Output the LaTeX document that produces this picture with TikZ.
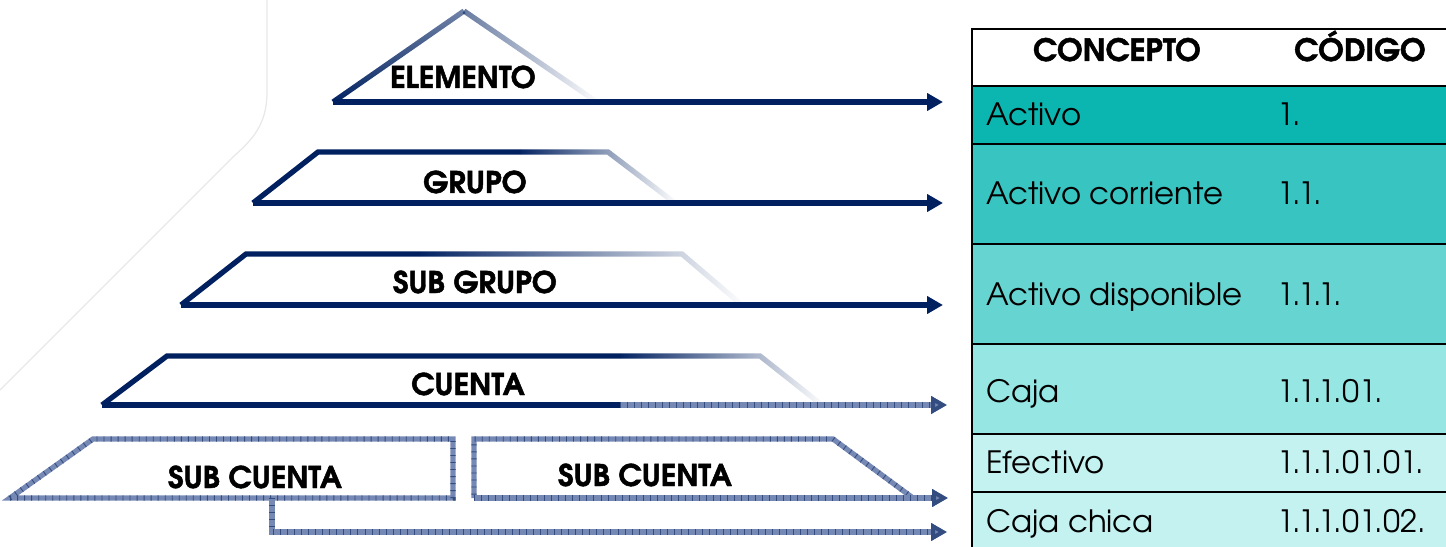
\documentclass[tikz,border=0pt]{standalone}
\usepackage{fontspec}
\setmainfont{texgyreadventor}[Extension=.otf, UprightFont=*-regular, BoldFont=*-bold, BoldFeatures={FakeBold=1.6}]
\usetikzlibrary{arrows.meta,fadings}
\definecolor{navy}{RGB}{0,32,96}
\definecolor{hatch}{RGB}{118,136,180}
\definecolor{rowA}{RGB}{12,182,176}
\definecolor{rowB}{RGB}{56,196,192}
\definecolor{rowC}{RGB}{102,212,208}
\definecolor{rowD}{RGB}{150,230,228}
\definecolor{rowE}{RGB}{196,242,241}
\tikzfading[name=faderight, left color=transparent!0, right color=transparent!100]
\tikzfading[name=fadequick, left color=transparent!0, middle color=transparent!92, right color=transparent!100]
\tikzfading[name=fadeapex, left color=transparent!40, right color=transparent!100]
\tikzfading[name=fadeup, bottom color=transparent!0, top color=transparent!45]

\begin{document}
\begin{tikzpicture}[x=0.02cm, y=-0.02cm,
  edge/.style={draw=navy, line width=3pt},
  weave/.style={draw=hatch, line width=3pt,
    postaction={draw=navy!80, line width=3pt, dash pattern=on 0.5pt off 3.5pt}},
  tip/.style={-{Triangle[length=0.32cm, width=0.34cm]}},
  wtip/.style={-{Triangle[length=0.32cm, width=0.34cm, fill=hatch]}},
  lbl/.style={font=\fontsize{17}{19}\selectfont\bfseries, inner sep=0pt, anchor=base},
  cell/.style={font=\fontsize{17.5}{20}\selectfont, inner sep=0pt, anchor=base west}]

\useasboundingbox (0,0) rectangle (1446,547);

% faint slide decoration
\draw[black!9, line width=0.7pt] (267,0) -- (267,92) .. controls (267,125) and (252,140) .. (233,157) -- (0,390);

% ---- levels ----
\coordinate (e1) at (333,102);
\coordinate (e2) at (464,11);
\coordinate (e3) at (597,102);
\coordinate (g1) at (253,203);
\coordinate (g2) at (318,152);
\coordinate (g3) at (608,152);
\coordinate (g4) at (675,203);
\coordinate (s1) at (181,305);
\coordinate (s2) at (246,254);
\coordinate (s3) at (682,254);
\coordinate (s4) at (742,305);
\coordinate (c1) at (102,405);
\coordinate (c2) at (167,356);
\coordinate (c3) at (760,356);
\coordinate (c4) at (822,405);
\coordinate (c5) at (620,405);

% arrow ends
\coordinate (t1) at (943,102);
\coordinate (t2) at (943,203);
\coordinate (t3) at (943,305);
\coordinate (t4) at (947,405);
\coordinate (t5) at (948,498);
\coordinate (t6) at (947,532);

% elemento
\path[draw=navy, line width=3pt, path fading=fadeup] (e1) -- (e2);
\path[draw=navy, line width=3pt, path fading=fadeapex] (e2) -- (e3);
\draw[edge, tip] (e1) -- (t1);
\node[lbl] (elemento) at (463,88) {ELEMENTO};

% grupo
\draw[edge] (g1) -- (g2) -- (520,152);
\path[draw=navy, line width=3pt, path fading=faderight] (520,152) -- (g3) -- (g4);
\draw[edge, tip] (g1) -- (t2);
\node[lbl] (grupo) at (475,193) {GRUPO};

% sub grupo
\draw[edge] (s1) -- (s2) -- (420,254);
\path[draw=navy, line width=3pt, path fading=faderight] (420,254) -- (s3) -- (s4);
\draw[edge, tip] (s1) -- (t3);
\node[lbl] (subgrupo) at (475,293) {SUB GRUPO};

% cuenta
\draw[edge] (c1) -- (c2) -- (620,356);
\path[draw=navy, line width=3pt, path fading=fadequick] (620,356) -- (c3) -- (c4);
\draw[edge] (c1) -- (c5);
\draw[weave, wtip] (c5) -- (t4);
\node[lbl] (cuenta) at (468,395) {CUENTA};

% sub cuentas
\coordinate (l1) at (10,498);
\coordinate (l2) at (93,439);
\coordinate (l3) at (453,439);
\coordinate (l4) at (453,498);
\coordinate (l5) at (272,498);
\coordinate (l6) at (272,532);
\coordinate (r1) at (474,498);
\coordinate (r2) at (474,439);
\coordinate (r3) at (833,439);
\coordinate (r4) at (913,498);
\draw[weave] (l1) -- (l2) -- (l3) -- (l4) -- cycle;
\draw[weave, wtip] (l5) -- (l6) -- (t6);
\draw[weave] (r4) -- (r3) -- (r2) -- (r1);
\draw[weave, wtip] (r1) -- (t5);
\node[lbl] (subcuentaA) at (255,488) {SUB CUENTA};
\node[lbl] (subcuentaB) at (645,486) {SUB CUENTA};

% ---- table ----
\fill[rowA] (972,86) rectangle (1446,144);
\fill[rowB] (972,144) rectangle (1446,244);
\fill[rowC] (972,244) rectangle (1446,344);
\fill[rowD] (972,344) rectangle (1446,434);
\fill[rowE] (972,434) rectangle (1446,547);
\draw[line width=1.1pt] (1446,29) -- (972,29) -- (972,547);
\foreach \yy in {86,144,244,344,434,492}
  \draw[line width=1.1pt] (972,\yy) -- (1446,\yy);

\node[lbl, font=\fontsize{17.5}{20}\selectfont\bfseries] (concepto) at (1117,61) {CONCEPTO};
\node[lbl, font=\fontsize{17.5}{20}\selectfont\bfseries] (codigo) at (1360,61) {CÓDIGO};
\node[cell] (n1) at (986,126) {Activo};
\node[cell] (k1) at (1277,126) {1.};
\node[cell] (n2) at (986,205) {Activo corriente};
\node[cell] (k2) at (1277,205) {1.1.};
\node[cell] (n3) at (986,305) {Activo disponible};
\node[cell] (k3) at (1277,305) {1.1.1.};
\node[cell] (n4) at (986,402) {Caja};
\node[cell] (k4) at (1277,402) {1.1.1.01.};
\node[cell] (n5) at (986,473) {Efectivo};
\node[cell] (k5) at (1277,473) {1.1.1.01.01.};
\node[cell] (n6) at (986,532) {Caja chica};
\node[cell] (k6) at (1277,532) {1.1.1.01.02.};
\end{tikzpicture}
\end{document}
